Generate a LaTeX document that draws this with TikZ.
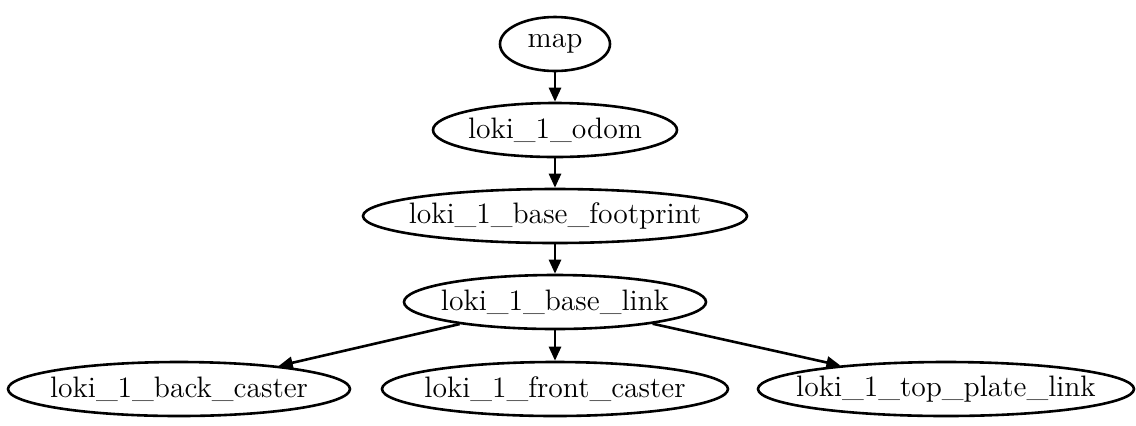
\documentclass[tikz,border=0pt]{standalone}
\usetikzlibrary{shapes.geometric,arrows.meta}
\begin{document}
\begin{tikzpicture}[x=0.5pt,y=-0.5pt,
  nd/.style={ellipse,draw,line width=1.3pt,inner sep=0pt,minimum height=27pt},
  lb/.style={font=\fontsize{14.8}{17}\selectfont,inner sep=0pt},
  ed/.style={line width=1.3pt,-{Triangle[length=7pt,width=6pt]}}]
\useasboundingbox (0,0) rectangle (1136,425);
\node[nd,minimum width=55pt] (map) at (555,44) {};
\node[nd,minimum width=122pt] (odom) at (555,130) {};
\node[nd,minimum width=192pt] (fp) at (555,216) {};
\node[nd,minimum width=151pt] (bl) at (555,302) {};
\node[nd,minimum width=171pt] (bc) at (179,389) {};
\node[nd,minimum width=173pt] (fc) at (555,389) {};
\node[nd,minimum width=188pt] (tp) at (946,389) {};
\node[lb] (tmap) at (map) {map};
\node[lb] (todom) at (odom) {loki\_1\_odom};
\node[lb] (tfp) at (fp) {loki\_1\_base\_footprint};
\node[lb] (tbl) at (bl) {loki\_1\_base\_link};
\node[lb] (tbc) at (bc) {loki\_1\_back\_caster};
\node[lb] (tfc) at (fc) {loki\_1\_front\_caster};
\node[lb] (ttp) at (tp) {loki\_1\_top\_plate\_link};
\draw[ed] (map) -- (odom);
\draw[ed] (odom) -- (fp);
\draw[ed] (fp) -- (bl);
\draw[ed] (bl) -- (bc);
\draw[ed] (bl) -- (fc);
\draw[ed] (bl) -- (tp);
\end{tikzpicture}
\end{document}
